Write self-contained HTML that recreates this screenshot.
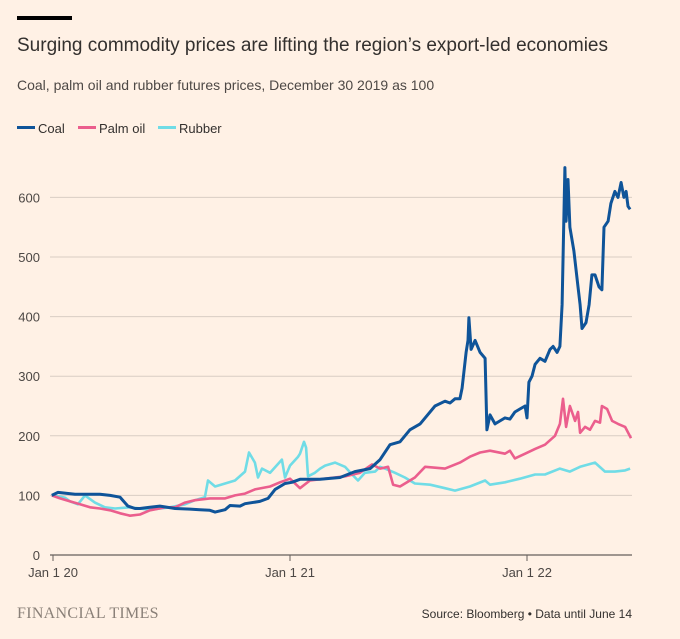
<!DOCTYPE html>
<html><head><meta charset="utf-8">
<style>
body{margin:0;background:#FFF1E5;width:680px;height:639px;overflow:hidden;font-family:"Liberation Sans",sans-serif}
svg{position:absolute;left:0;top:0}
</style></head>
<body>
<svg width="680" height="639">
<rect x="17" y="16" width="55" height="4" fill="#000"/>
<text x="17" y="51" font-size="19" textLength="591" lengthAdjust="spacingAndGlyphs" fill="#33302E">Surging commodity prices are lifting the region’s export-led economies</text>
<text x="17" y="90" font-size="14" fill="#4d4845">Coal, palm oil and rubber futures prices, December 30 2019 as 100</text>
<g font-size="13" fill="#33302E">
<g><rect x="17" y="126" width="18" height="3" fill="#0F5499"/><text x="38" y="133">Coal</text></g>
<g><rect x="78" y="126" width="18" height="3" fill="#EB5E8D"/><text x="99" y="133">Palm oil</text></g>
<g><rect x="158" y="126" width="18" height="3" fill="#70DCE6"/><text x="179" y="133">Rubber</text></g>
</g>
<g id="grid"></g>
<g id="xaxis"></g>
<g id="series"></g>
<text x="17" y="618" font-family="Liberation Serif,serif" font-size="16" fill="#8a8078" letter-spacing="0.3">FINANCIAL TIMES</text>
<text x="632" y="618" font-size="12" fill="#33302E" text-anchor="end">Source: Bloomberg • Data until June 14</text>
</svg>
<script>
const yTicks=[0,100,200,300,400,500,600];
const xTickYears=[0,1,2];
const xTickLabels=["Jan 1 20","Jan 1 21","Jan 1 22"];
const coalT=[-0.005,0.021,0.093,0.198,0.241,0.283,0.316,0.346,0.367,0.409,0.451,0.515,0.578,0.620,0.662,0.684,0.726,0.747,0.789,0.810,0.873,0.907,0.937,0.979,1.008,1.042,1.127,1.211,1.274,1.338,1.380,1.422,1.464,1.506,1.549,1.570,1.612,1.654,1.675,1.696,1.717,1.726,1.743,1.751,1.755,1.764,1.781,1.802,1.823,1.831,1.844,1.865,1.907,1.928,1.949,1.970,1.992,2.000,2.008,2.021,2.034,2.055,2.076,2.097,2.110,2.127,2.139,2.148,2.160,2.165,2.173,2.181,2.198,2.215,2.224,2.232,2.249,2.262,2.274,2.287,2.304,2.316,2.325,2.342,2.354,2.371,2.384,2.397,2.409,2.418,2.426,2.435];
const coalV=[100,105,102,102,100,97,82,78,78,80,82,78,77,76,75,72,76,83,82,86,90,95,110,120,122,127,127,130,140,145,160,185,190,210,220,230,250,258,255,262,262,280,340,360,398,345,360,340,330,210,235,220,230,228,240,245,250,230,290,300,320,330,325,345,350,340,350,420,650,560,630,550,510,450,420,380,390,420,470,470,450,445,550,560,590,610,600,625,600,610,585,580];
const palmT=[-0.005,0.03,0.072,0.114,0.156,0.198,0.241,0.283,0.325,0.367,0.409,0.473,0.515,0.557,0.599,0.662,0.726,0.768,0.810,0.852,0.916,0.958,1.0,1.042,1.084,1.148,1.232,1.295,1.346,1.380,1.414,1.435,1.464,1.527,1.570,1.654,1.717,1.759,1.802,1.844,1.907,1.928,1.949,1.992,2.034,2.076,2.118,2.139,2.152,2.165,2.181,2.203,2.215,2.224,2.245,2.266,2.287,2.308,2.316,2.338,2.359,2.384,2.414,2.439];
const palmV=[100,95,90,85,80,78,75,70,66,68,75,80,80,88,92,95,95,100,103,110,115,122,128,112,125,128,132,138,152,145,148,118,115,130,148,145,155,165,172,175,170,175,162,170,178,185,200,220,262,215,250,225,240,205,215,210,225,222,250,245,225,220,215,196];
const rubberT=[-0.005,0.03,0.051,0.072,0.105,0.135,0.177,0.219,0.262,0.325,0.409,0.494,0.557,0.599,0.641,0.654,0.684,0.726,0.768,0.810,0.827,0.852,0.865,0.882,0.916,0.966,0.979,1.0,1.034,1.042,1.059,1.068,1.076,1.105,1.127,1.148,1.19,1.232,1.262,1.287,1.316,1.359,1.380,1.401,1.443,1.485,1.527,1.591,1.654,1.696,1.759,1.823,1.844,1.907,1.970,2.034,2.076,2.139,2.181,2.224,2.287,2.329,2.371,2.414,2.435];
const rubberV=[100,98,96,90,85,100,88,80,78,80,76,80,85,92,97,125,115,120,125,140,172,155,130,145,138,160,130,150,165,170,190,180,132,138,145,150,155,148,135,125,138,140,148,145,138,130,120,118,112,108,115,125,118,122,128,135,135,145,140,148,155,140,140,142,145];

const NS="http://www.w3.org/2000/svg";
const X0=53,PXY=237,Y0=555,PXV=0.596,XL=50,XR=632;
const xs=t=>X0+t*PXY, ys=v=>Y0-v*PXV;
const grid=document.getElementById('grid');
yTicks.forEach(v=>{
  const l=document.createElementNS(NS,'line');
  
  
  l.setAttribute('x1',XL);l.setAttribute('x2',XR);l.setAttribute('y1',ys(v));l.setAttribute('y2',ys(v));
  l.setAttribute('stroke',v===0?'#66605C':'#d9cdc3');l.setAttribute('stroke-width',v===0?1.2:1);
  grid.appendChild(l);
  const t=document.createElementNS(NS,'text');
  
  
  t.setAttribute('x',40);t.setAttribute('y',ys(v)+5);t.setAttribute('text-anchor','end');
  t.setAttribute('font-size','13');t.setAttribute('fill','#4d4845');t.textContent=v;
  grid.appendChild(t);
});
const xa=document.getElementById('xaxis');
xTickYears.forEach((yr,i)=>{
  const l=document.createElementNS(NS,'line');
  
  
  l.setAttribute('x1',xs(yr));l.setAttribute('x2',xs(yr));l.setAttribute('y1',Y0);l.setAttribute('y2',Y0+6);
  l.setAttribute('stroke','#66605C');xa.appendChild(l);
  const t=document.createElementNS(NS,'text');
  
  
  t.setAttribute('x',xs(yr));t.setAttribute('y',Y0+22);t.setAttribute('text-anchor','middle');
  t.setAttribute('font-size','13');t.setAttribute('fill','#4d4845');t.textContent=xTickLabels[i];
  xa.appendChild(t);
});
const ser=document.getElementById('series');
function draw(T,V,color,name,w){
  const p=document.createElementNS(NS,'path');
  
  
  p.setAttribute('d',T.map((t,i)=>(i?'L':'M')+xs(t).toFixed(1)+' '+ys(V[i]).toFixed(1)).join(''));
  p.setAttribute('fill','none');p.setAttribute('stroke',color);p.setAttribute('stroke-width',w);
  p.setAttribute('stroke-linejoin','round');
  ser.appendChild(p);
}
draw(rubberT,rubberV,'#70DCE6','rubber-line',2.6);
draw(palmT,palmV,'#EB5E8D','palm-oil-line',2.6);
draw(coalT,coalV,'#0F5499','coal-line',3);
</script>
</body></html>
